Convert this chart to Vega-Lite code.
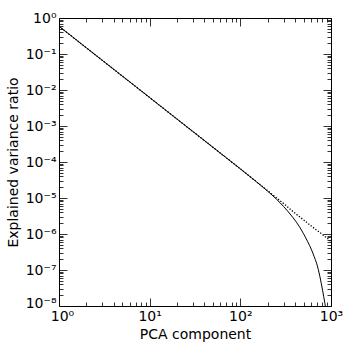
{
  "$schema": "https://vega.github.io/schema/vega-lite/v6.json",
  "width": 272,
  "height": 288,
  "autosize": {"type": "none"},
  "padding": {"left": 59, "top": 18, "right": 23, "bottom": 48},
  "background": "white",
  "config": {
    "view": {"stroke": "black", "strokeWidth": 1},
    "font": "DejaVu Sans",
    "axis": {
      "grid": false,
      "domain": false,
      "labelFont": "DejaVu Sans",
      "labelFontSize": 14,
      "labelColor": "black",
      "titleFont": "DejaVu Sans",
      "titleFontSize": 14,
      "titleFontWeight": "normal",
      "titleColor": "black",
      "tickColor": "black",
      "tickWidth": 0.8,
      "labelOverlap": false,
      "labelFlush": false,
      "labelBound": false
    }
  },
  "data": {
    "values": [
      {"x": 1, "y": 0.589, "s": "dotted"},
      {"x": 2, "y": 0.149, "s": "dotted"},
      {"x": 3, "y": 0.0668, "s": "dotted"},
      {"x": 5, "y": 0.0243, "s": "dotted"},
      {"x": 7, "y": 0.0125, "s": "dotted"},
      {"x": 10, "y": 0.00617, "s": "dotted"},
      {"x": 20, "y": 0.00156, "s": "dotted"},
      {"x": 30, "y": 0.0007, "s": "dotted"},
      {"x": 50, "y": 0.000255, "s": "dotted"},
      {"x": 70, "y": 0.000131, "s": "dotted"},
      {"x": 100, "y": 6.46e-5, "s": "dotted"},
      {"x": 150, "y": 2.85e-5, "s": "dotted"},
      {"x": 200, "y": 1.6e-5, "s": "dotted"},
      {"x": 250, "y": 1.01e-5, "s": "dotted"},
      {"x": 300, "y": 7.0e-6, "s": "dotted"},
      {"x": 400, "y": 3.8e-6, "s": "dotted"},
      {"x": 500, "y": 2.45e-6, "s": "dotted"},
      {"x": 600, "y": 1.7e-6, "s": "dotted"},
      {"x": 700, "y": 1.26e-6, "s": "dotted"},
      {"x": 800, "y": 9.8e-7, "s": "dotted"},
      {"x": 900, "y": 7.8e-7, "s": "dotted"},
      {"x": 1000, "y": 6.3e-7, "s": "dotted"},
      {"x": 1, "y": 0.589, "s": "solid"},
      {"x": 2, "y": 0.149, "s": "solid"},
      {"x": 3, "y": 0.0668, "s": "solid"},
      {"x": 5, "y": 0.0243, "s": "solid"},
      {"x": 7, "y": 0.0125, "s": "solid"},
      {"x": 10, "y": 0.00617, "s": "solid"},
      {"x": 20, "y": 0.00156, "s": "solid"},
      {"x": 30, "y": 0.0007, "s": "solid"},
      {"x": 50, "y": 0.000255, "s": "solid"},
      {"x": 70, "y": 0.000131, "s": "solid"},
      {"x": 100, "y": 6.46e-5, "s": "solid"},
      {"x": 150, "y": 2.84e-5, "s": "solid"},
      {"x": 200, "y": 1.55e-5, "s": "solid"},
      {"x": 250, "y": 9.3e-6, "s": "solid"},
      {"x": 300, "y": 5.8e-6, "s": "solid"},
      {"x": 383, "y": 2.8e-6, "s": "solid"},
      {"x": 450, "y": 1.58e-6, "s": "solid"},
      {"x": 494, "y": 1.05e-6, "s": "solid"},
      {"x": 550, "y": 6.3e-7, "s": "solid"},
      {"x": 611, "y": 3.6e-7, "s": "solid"},
      {"x": 650, "y": 2.4e-7, "s": "solid"},
      {"x": 693, "y": 1.55e-7, "s": "solid"},
      {"x": 755, "y": 6.5e-8, "s": "solid"},
      {"x": 807, "y": 2.75e-8, "s": "solid"},
      {"x": 857, "y": 1.17e-8, "s": "solid"},
      {"x": 880, "y": 7.9e-9, "s": "solid"}
    ]
  },
  "layer": [
    {
      "transform": [{"filter": "datum.s == 'solid'"}],
      "mark": {"type": "line", "color": "black", "strokeWidth": 1, "clip": true, "interpolate": "monotone"},
      "encoding": {
        "x": {
          "field": "x", "type": "quantitative",
          "scale": {"type": "log", "domain": [1, 1000], "nice": false},
          "axis": {
            "orient": "bottom",
            "title": "PCA component",
            "titlePadding": 0,
            "values": [1,2,3,4,5,6,7,8,9,10,20,30,40,50,60,70,80,90,100,200,300,400,500,600,700,800,900,1000],
            "tickSize": {"condition": {"test": "abs(log(datum.value)/LN10 - round(log(datum.value)/LN10)) < 0.000001", "value": -8}, "value": -4},
            "labelPadding": 11,
            "labelOffset": {"condition": {"test": "datum.value < 1.5", "value": 3}, "value": 0},
            "labelExpr": "abs(log(datum.value)/LN10 - round(log(datum.value)/LN10)) < 0.000001 ? '10' + (round(log(datum.value)/LN10) < 0 ? '⁻' : '') + substring('⁰¹²³⁴⁵⁶⁷⁸⁹', abs(round(log(datum.value)/LN10)), abs(round(log(datum.value)/LN10)) + 1) : ''"
          }
        },
        "y": {
          "field": "y", "type": "quantitative",
          "scale": {"type": "log", "domain": [1e-8, 1], "nice": false},
          "axis": {
            "orient": "left",
            "title": "Explained variance ratio",
            "titlePadding": 5,
            "values": [1e-8,2e-8,3e-8,4e-8,5e-8,6e-8,7e-8,8e-8,9e-8,1e-7,2e-7,3e-7,4e-7,5e-7,6e-7,7e-7,8e-7,9e-7,1e-6,2e-6,3e-6,4e-6,5e-6,6e-6,7e-6,8e-6,9e-6,1e-5,2e-5,3e-5,4e-5,5e-5,6e-5,7e-5,8e-5,9e-5,1e-4,2e-4,3e-4,4e-4,5e-4,6e-4,7e-4,8e-4,9e-4,0.001,0.002,0.003,0.004,0.005,0.006,0.007,0.008,0.009,0.01,0.02,0.03,0.04,0.05,0.06,0.07,0.08,0.09,0.1,0.2,0.3,0.4,0.5,0.6,0.7,0.8,0.9,1],
            "tickSize": {"condition": {"test": "abs(log(datum.value)/LN10 - round(log(datum.value)/LN10)) < 0.000001", "value": -8}, "value": -4},
            "labelPadding": 11,
            "labelOffset": {"condition": {"test": "datum.value < 1.5e-8", "value": -3}, "value": 0},
            "labelExpr": "abs(log(datum.value)/LN10 - round(log(datum.value)/LN10)) < 0.000001 ? '10' + (round(log(datum.value)/LN10) < 0 ? '⁻' : '') + substring('⁰¹²³⁴⁵⁶⁷⁸⁹', abs(round(log(datum.value)/LN10)), abs(round(log(datum.value)/LN10)) + 1) : ''"
          }
        }
      }
    },
    {
      "transform": [{"filter": "datum.s == 'dotted'"}],
      "mark": {"type": "line", "color": "black", "strokeWidth": 1.3, "strokeDash": [1.3, 1.7], "clip": true},
      "encoding": {
        "x": {
          "field": "x", "type": "quantitative",
          "scale": {"type": "log", "domain": [1, 1000], "nice": false},
          "axis": {
            "orient": "top",
            "title": null,
            "labels": false,
            "values": [1,2,3,4,5,6,7,8,9,10,20,30,40,50,60,70,80,90,100,200,300,400,500,600,700,800,900,1000],
            "tickSize": {"condition": {"test": "abs(log(datum.value)/LN10 - round(log(datum.value)/LN10)) < 0.000001", "value": -8}, "value": -4}
          }
        },
        "y": {
          "field": "y", "type": "quantitative",
          "scale": {"type": "log", "domain": [1e-8, 1], "nice": false},
          "axis": {
            "orient": "right",
            "title": null,
            "labels": false,
            "values": [1e-8,2e-8,3e-8,4e-8,5e-8,6e-8,7e-8,8e-8,9e-8,1e-7,2e-7,3e-7,4e-7,5e-7,6e-7,7e-7,8e-7,9e-7,1e-6,2e-6,3e-6,4e-6,5e-6,6e-6,7e-6,8e-6,9e-6,1e-5,2e-5,3e-5,4e-5,5e-5,6e-5,7e-5,8e-5,9e-5,1e-4,2e-4,3e-4,4e-4,5e-4,6e-4,7e-4,8e-4,9e-4,0.001,0.002,0.003,0.004,0.005,0.006,0.007,0.008,0.009,0.01,0.02,0.03,0.04,0.05,0.06,0.07,0.08,0.09,0.1,0.2,0.3,0.4,0.5,0.6,0.7,0.8,0.9,1],
            "tickSize": {"condition": {"test": "abs(log(datum.value)/LN10 - round(log(datum.value)/LN10)) < 0.000001", "value": -8}, "value": -4}
          }
        }
      }
    }
  ],
  "resolve": {"axis": {"x": "independent", "y": "independent"}}
}
